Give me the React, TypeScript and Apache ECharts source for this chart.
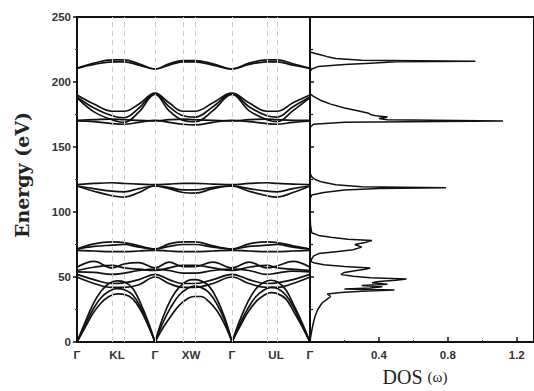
import { useEffect, useRef } from "react";
import * as echarts from "echarts";

// ---- band structure path (k in arbitrary path units) ----
const kPath = [0, 17, 35, 47, 62, 78, 92, 106, 118, 136, 155, 172, 190, 200, 216, 233];
const symK = [35, 47, 78, 106, 118, 155, 190, 200];
const kLabelPos = [0, 40, 78, 114, 155, 199, 233];
const kLabels = ["Γ", "KL", "Γ", "XW", "Γ", "UL", "Γ"];

// upper optical bands (values at kPath)
const bandTop1 = [210.5, 214.5, 217, 217, 214, 210, 214, 216.5, 216.5, 214, 210, 214.5, 217, 217, 214, 210.5];
const bandTop2 = [210.5, 213.5, 215.5, 215.5, 213, 210, 213, 215.5, 215.5, 213, 210, 213.5, 215.5, 215.5, 213, 210.5];
const band190a = [190, 183, 177.5, 177.5, 183, 191.5, 184, 177.5, 177.5, 184, 191.5, 184, 177.5, 177.5, 184, 190];
const band190b = [188.5, 180, 174, 172.5, 180, 191, 181, 174, 173, 181, 191, 181, 174, 173, 181, 188.5];
const band190c = [188, 177, 171, 169, 177, 190.5, 178, 170.5, 169.5, 178, 190.5, 178, 171, 169.5, 178, 188];
const band170a = [170, 169.5, 168, 167.5, 169, 170.5, 169, 167.5, 167, 169, 170.5, 169.5, 168, 167.5, 169, 170];
const band170b = [170.5, 171, 171.5, 171, 170.5, 170, 171, 171.5, 171, 170.5, 170, 171, 171.5, 171, 170.5, 170.5];
const band120a = [121, 122, 122.5, 122, 121.5, 121, 121.5, 122, 122, 121.5, 121, 122, 122.5, 122, 121.5, 121];
const band120b = [120, 118, 116, 115.5, 118, 120, 119, 117, 117, 119, 120, 118, 116, 115.5, 118, 120];
const band120c = [120, 116, 112.5, 111.5, 115, 120, 118, 115, 114.5, 118, 120, 116, 112.5, 111.5, 115, 120];
const band70a = [70.5, 70, 69.5, 69.5, 70, 70.5, 70, 69.5, 69.5, 70, 70.5, 70, 69.5, 69.5, 70, 70.5];
const band70b = [71.5, 75.5, 77, 76.5, 74, 71.5, 75.5, 77, 77, 74, 71.5, 75.5, 77, 76.5, 74, 71.5];
const band70c = [71.5, 73.5, 74.5, 75, 73, 71.5, 73.5, 75, 75, 73, 71.5, 73.5, 74.5, 75, 73, 71.5];
const bandOpt1 = [57.5, 62, 57, 60, 61, 57, 61.5, 58, 58, 61.5, 57, 61.5, 57, 58.5, 62, 57.5];
const bandOpt2 = [55, 57.5, 59, 57, 56, 55, 57, 59, 59, 57, 55, 57.5, 59, 57, 56, 55];
const bandOpt3 = [54, 53.5, 52, 53, 55, 56, 55, 53, 53, 55, 56, 55, 52, 53, 54.5, 54];
const bandOpt4 = [52, 48, 45, 45.5, 48, 52, 48, 45, 45, 48, 52, 48, 45, 45.5, 48, 52];
const bandOpt5 = [50, 45, 42, 42, 44, 50, 45, 42, 42, 45, 50, 45, 42, 42, 45, 50];

// acoustic branches, one arch per Γ–Γ segment
const seg1K = [0, 8, 16, 24, 32, 40, 48, 56, 64, 71, 78];
const seg2K = [78, 86, 94, 102, 110, 117, 124, 132, 140, 148, 155];
const seg3K = [155, 163, 171, 179, 187, 194, 201, 209, 217, 225, 233];
const acLA1 = [0, 15, 29, 39, 45, 47, 46, 41, 29, 16, 0];
const acTA1a = [0, 13, 25, 34, 39, 41, 40, 36, 26, 14, 0];
const acTA1b = [0, 11, 22, 30, 35, 37, 36.5, 33, 24, 13, 0];
const acLA2 = [0, 19, 33, 42, 47, 48, 47, 43, 33, 18, 0];
const acTA2a = [0, 15, 27, 36, 41, 43, 42, 38, 29, 16, 0];
const acTA2b = [0, 11, 20, 28, 33, 35, 35, 31, 24, 13, 0];
const acLA3 = [0, 17, 31, 41, 46, 47.5, 46, 40, 28, 15, 0];
const acTA3a = [0, 14, 26, 35, 40, 42, 41, 36, 26, 13, 0];
const acTA3b = [0, 12, 23, 31, 36, 38, 37, 33, 23, 12, 0];

// ---- phonon DOS ----
const dosE = [0, 5, 10, 15, 20, 25, 30, 33, 35, 37, 38, 39, 40, 40.8, 41.5, 42.5, 43.5, 44.5, 45.5, 46.5, 47.5, 48.5, 49.5, 50.5, 52, 53.5, 55, 56, 57, 58, 59.5, 61, 62, 64, 66, 68, 69.5, 71, 73, 75, 76.5, 78, 79, 80.5, 82, 84, 90, 100, 110, 113, 115, 117, 118, 118.7, 119.5, 121, 123, 125, 127, 130, 150, 165, 167.5, 169, 170, 171, 172, 173, 174, 175, 176, 178, 180, 183, 186, 189, 191, 200, 208, 210, 212, 213.5, 214.5, 215.5, 216, 216.8, 218, 219.5, 221, 222, 223, 235, 250];
const dosV = [0, 0.005, 0.012, 0.02, 0.03, 0.045, 0.07, 0.1, 0.12, 0.1, 0.18, 0.3, 0.49, 0.2, 0.35, 0.42, 0.3, 0.45, 0.36, 0.4, 0.5, 0.56, 0.35, 0.25, 0.18, 0.2, 0.27, 0.32, 0.35, 0.2, 0.08, 0.02, 0.005, 0.01, 0.02, 0.05, 0.15, 0.25, 0.3, 0.26, 0.32, 0.36, 0.22, 0.12, 0.05, 0.01, 0.003, 0, 0, 0.01, 0.08, 0.2, 0.4, 0.79, 0.3, 0.15, 0.07, 0.03, 0.01, 0, 0, 0, 0.02, 0.2, 1.12, 0.45, 0.4, 0.45, 0.38, 0.35, 0.34, 0.27, 0.2, 0.12, 0.06, 0.02, 0, 0, 0, 0.01, 0.05, 0.2, 0.35, 0.5, 0.96, 0.3, 0.15, 0.1, 0.06, 0.03, 0, 0, 0];
const dosLabelVals = [0.4, 0.8, 1.2];

const fullBands = [bandTop1, bandTop2, band190a, band190b, band190c, band170a, band170b, band120a, band120b, band120c, band70a, band70b, band70c, bandOpt1, bandOpt2, bandOpt3, bandOpt4, bandOpt5];
const acoustic: [number[], number[]][] = [
  [seg1K, acLA1], [seg1K, acTA1a], [seg1K, acTA1b],
  [seg2K, acLA2], [seg2K, acTA2a], [seg2K, acTA2b],
  [seg3K, acLA3], [seg3K, acTA3a], [seg3K, acTA3b],
];

const pairs = (ks: number[], es: number[]) => ks.map((k, i) => [k, es[i]]);

export default function App() {
  const ref = useRef<HTMLDivElement>(null);
  useEffect(() => {
    if (!ref.current) return;
    const chart = echarts.init(ref.current, null, { renderer: "svg" });
    const lineCommon = {
      type: "line" as const,
      xAxisIndex: 0,
      yAxisIndex: 0,
      symbol: "none",
      showSymbol: false,
      silent: true,
      smooth: 0.4,
      lineStyle: { color: "#111", width: 1.7 },
    };
    const tickLabel = {
      fontFamily: "Liberation Sans, Arial, sans-serif",
      fontWeight: "bold" as const,
      fontSize: 11.5,
      color: "#333",
    };
    const series: any[] = [];
    series.push({
      type: "line",
      xAxisIndex: 0,
      yAxisIndex: 0,
      data: [],
      silent: true,
      markLine: {
        silent: true,
        symbol: ["none", "none"],
        label: { show: false },
        lineStyle: { type: [5, 4], color: "#cccccc", width: 1 },
        data: symK.map((k) => ({ xAxis: k })),
      },
    });
    fullBands.forEach((b) => series.push({ ...lineCommon, data: pairs(kPath, b) }));
    acoustic.forEach(([ks, es]) => series.push({ ...lineCommon, data: pairs(ks, es) }));
    series.push({
      type: "line",
      xAxisIndex: 1,
      yAxisIndex: 1,
      symbol: "none",
      showSymbol: false,
      silent: true,
      lineStyle: { color: "#111", width: 1.5 },
      data: dosE.map((e, i) => [dosV[i], e]),
    });

    chart.setOption({
      animation: false,
      backgroundColor: "#fff",
      grid: [
        { left: 77, top: 17, width: 233, height: 325, show: true, borderColor: "#111", borderWidth: 2 },
        { left: 310, top: 17, width: 234, height: 325, show: true, borderColor: "#111", borderWidth: 2 },
      ],
      xAxis: [
        {
          type: "value",
          gridIndex: 0,
          min: 0,
          max: 233,
          splitLine: { show: false },
          axisLine: { lineStyle: { color: "#111", width: 2 } },
          axisTick: { customValues: symK, inside: true, length: 3, lineStyle: { color: "#333" } },
          axisLabel: {
            ...tickLabel,
            customValues: kLabelPos,
            margin: 7,
            formatter: (v: number) => {
              const i = kLabelPos.indexOf(v);
              return i >= 0 ? kLabels[i] : "";
            },
          },
        },
        {
          type: "value",
          gridIndex: 1,
          min: 0,
          max: 1.3,
          interval: 0.4,
          splitLine: { show: false },
          axisLine: { lineStyle: { color: "#111", width: 2 } },
          axisTick: { inside: true, length: 5, lineStyle: { color: "#111", width: 1.5 } },
          minorTick: { show: true, splitNumber: 2, length: 2, lineStyle: { color: "#333" } },
          axisLabel: {
            ...tickLabel,
            customValues: dosLabelVals,
            margin: 7,
            formatter: (v: number) => v.toFixed(1),
          },
        },
      ],
      yAxis: [
        {
          type: "value",
          gridIndex: 0,
          min: 0,
          max: 250,
          interval: 50,
          splitLine: { show: false },
          axisLine: { lineStyle: { color: "#111", width: 2 } },
          axisTick: { inside: false, length: 4, lineStyle: { color: "#111", width: 1.5 } },
          minorTick: { show: true, splitNumber: 2, length: 2, lineStyle: { color: "#333" } },
          axisLabel: { ...tickLabel, margin: 6 },
        },
        {
          type: "value",
          gridIndex: 1,
          min: 0,
          max: 250,
          interval: 50,
          splitLine: { show: false },
          axisLine: { lineStyle: { color: "#111", width: 2 } },
          axisTick: { inside: true, length: 4, lineStyle: { color: "#111", width: 1.5 } },
          minorTick: { show: true, splitNumber: 2, length: 3, lineStyle: { color: "#111", width: 1.2 } },
          axisLabel: { show: false },
        },
      ],
      graphic: [
        {
          type: "text",
          x: 22,
          y: 175,
          rotation: Math.PI / 2,
          style: {
            text: "Energy (eV)",
            font: "bold 19px 'DejaVu Serif', serif",
            fill: "#222",
            textAlign: "center",
            textVerticalAlign: "middle",
          },
        },
        {
          type: "text",
          x: 415,
          y: 377,
          style: {
            text: "{a|DOS }{b|(ω)}",
            rich: {
              a: { font: "20px 'Liberation Serif', serif", fill: "#222" },
              b: { font: "15px 'Liberation Serif', serif", fill: "#222" },
            },
            textAlign: "center",
            textVerticalAlign: "middle",
          },
        },
      ],
      series,
    });
    return () => chart.dispose();
  }, []);
  return (
    <div
      ref={ref}
      style={{ position: "fixed", left: 0, top: 0, width: 534, height: 391, background: "#fff" }}
    />
  );
}
